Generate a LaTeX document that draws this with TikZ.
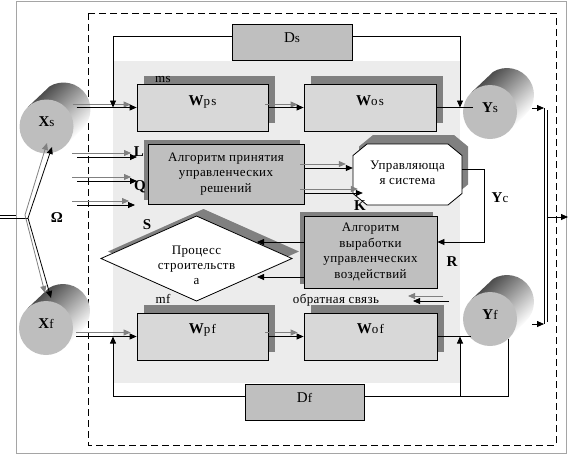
\documentclass[tikz,border=0pt]{standalone}
\usepackage{fontspec}
\setmainfont{Liberation Serif}
\newfontfamily\spc[LetterSpace=3]{Liberation Serif}
\newfontfamily\spw[LetterSpace=10]{Liberation Serif}
\usetikzlibrary{arrows.meta,calc,shadows}
\definecolor{bgreg}{RGB}{236,236,236}
\definecolor{wbox}{RGB}{216,216,216}
\definecolor{mbox}{RGB}{191,191,191}
\definecolor{shd}{RGB}{128,128,128}
\definecolor{face}{RGB}{190,190,190}
\definecolor{cyldark}{RGB}{78,78,78}
\definecolor{cylmid}{RGB}{132,132,132}
\definecolor{framec}{RGB}{165,165,165}
\newcommand\BS[2]{{\fontsize{15}{15}\selectfont\bfseries #1}{\spw\fontsize{13}{13}\selectfont #2}}
\newcommand\DS[2]{{\fontsize{15}{15}\selectfont #1}{\spw\fontsize{13}{13}\selectfont #2}}
\newcommand\mycyl[4]{%
  \begin{scope}
  \clip ($(#1,#2)+(-46.6:27)$) -- ++(17,17) arc[start angle=-46.6, end angle=133.4, radius=27]
    -- ($(#1,#2)+(133.4:27)$) -- cycle;
  \shade[left color=cyldark, middle color=cylmid, right color=white, transform canvas={shift={(#1,#2)}, rotate=-46.6}]
    (-27,-30) rectangle (27,60);
  \end{scope}
  \node[cylface] (#3) at (#1,#2) {#4};}
\tikzset{
  ln/.style={line width=0.8pt},
  arr/.style={line width=0.8pt, -{Triangle[length=7pt,width=6pt]}},
  garr/.style={line width=0.8pt, draw=shd, -{Triangle[length=7pt,width=6pt]}},
  wboxs/.style={draw, fill=wbox, line width=0.8pt, minimum width=131pt, minimum height=47pt,
    inner sep=0pt,
    drop shadow={shadow xshift=7pt, shadow yshift=8pt, fill=shd, opacity=1}},
  mboxs/.style={draw, fill=mbox, line width=0.8pt, inner sep=0pt, align=center,
    font=\spc\fontsize{13}{15.5}\selectfont,
    drop shadow={shadow xshift=-4pt, shadow yshift=4pt, fill=shd, opacity=1}},
  dboxs/.style={draw, fill=mbox, line width=0.8pt, minimum width=120pt, minimum height=36pt,
    inner sep=0pt, text height=10pt, text depth=10pt},
  txt/.style={align=center, inner sep=0pt, font=\spc\fontsize{13}{15}\selectfont},
  small/.style={inner sep=0pt, font=\spc\fontsize{13}{13}\selectfont},
  lbl/.style={inner sep=0pt, font=\fontsize{15}{15}\selectfont\bfseries},
  wlbl/.style={inner sep=0pt, text height=10pt, text depth=10pt},
  cylface/.style={circle, fill=face, minimum size=54pt, inner sep=0pt, text height=10pt, text depth=10pt}
}
\begin{document}
\begin{tikzpicture}[x=1pt,y=1pt]
\useasboundingbox (0,0) rectangle (581,-458);
% frames
\draw[framec, line width=1pt] (16,-1.5) rectangle (566,-453);
\fill[bgreg] (113,-61) rectangle (460,-383);
\draw[ln, dash pattern=on 7pt off 4pt] (88,-13) rectangle (556,-445);

% boxes
\node[dboxs] (Ds) at (292,-42) {\DS{D}{s}};
\node[dboxs, minimum width=119pt] (Df) at (304.5,-402) {\DS{D}{f}};
\node[wboxs] (Wps) at (202.5,-107.5) {};
\node[wboxs, minimum width=132pt] (Wos) at (370,-107.5) {};
\node[wboxs] (Wpf) at (202.5,-336.5) {};
\node[wboxs, minimum width=133pt] (Wof) at (370.5,-336.5) {};
\node[small] (ms) at (163,-79) {ms};
\node[small] (mf) at (163,-299) {mf};
\node[wlbl] (tWps) at ($(Wps)+(0,2)$) {\BS{W}{ps}};
\node[wlbl] (tWos) at ($(Wos)+(0,2)$) {\BS{W}{os}};
\node[wlbl] (tWpf) at ($(Wpf)+(0,3)$) {\BS{W}{pf}};
\node[wlbl] (tWof) at ($(Wof)+(0,3)$) {\BS{W}{of}};
\node[small] (obr) at (336,-300) {обратная связь};

\node[mboxs, minimum width=156pt, minimum height=60pt] (alg1) at (226,-174)
  {Алгоритм принятия\\управленческих\\решений};
\node[mboxs, minimum width=133pt, minimum height=72pt] (alg2) at (370.5,-252)
  {Алгоритм\\выработки\\управленческих\\воздействий};

% octagon
\coordinate (uc) at (407.5,-174.5);
\fill[shd, shift={($(uc)+(6,9)$)}] (-54.5,-19) -- (-54.5,19) -- (-40.5,30.5) -- (40.5,30.5)
  -- (54.5,19) -- (54.5,-19) -- (40.5,-30.5) -- (-40.5,-30.5) -- cycle;
\draw[ln, fill=white, shift={(uc)}] (-54.5,-19) -- (-54.5,19) -- (-40.5,30.5) -- (40.5,30.5)
  -- (54.5,19) -- (54.5,-19) -- (40.5,-30.5) -- (-40.5,-30.5) -- cycle;
\node[txt, minimum width=109pt, minimum height=61pt] (usys) at ($(uc)+(0,2)$) {Управляюща\\я система};

% diamond
\coordinate (pc) at (196.5,-258.5);
\fill[shd, shift={($(pc)+(7,7)$)}] (-95.5,0) -- (0,42.5) -- (95.5,0) -- (0,-42.5) -- cycle;
\draw[ln, fill=white, shift={(pc)}] (-95.5,0) -- (0,42.5) -- (95.5,0) -- (0,-42.5) -- cycle;
\node[txt] (proc) at ($(pc)+(0,-7)$) {Процесс\\строительств\\а};

% cylinders
\mycyl{46.5}{-126.5}{xs}{\BS{X}{s}}
\mycyl{490}{-112}{ys}{\BS{Y}{s}}
\mycyl{46}{-328}{xf}{\BS{X}{f}}
\mycyl{490}{-319}{yf}{\BS{Y}{f}}

% labels
\node[lbl] (L) at (139,-152) {L};
\node[lbl] (Q) at (140,-187) {Q};
\node[lbl] (S) at (147,-225) {S};
\node[lbl] (K) at (360,-206) {K};
\node[lbl] (R) at (452,-262) {R};
\node[lbl] (Om) at (57,-218) {Ω};
\node[inner sep=0pt] (Yc) at (500,-198) {\BS{Y}{c}};

% Xs -> Wps -> Wos -> Ys
\draw[garr] ($(xs.east |- Wps.west)+(-1,3)$) -- ($(Wps.west)+(-6,3)$);
\draw[arr] ($(xs.east |- Wps.west)+(3,0)$) -- (Wps.west);
\draw[garr] ($(Wps.east)+(-3,3)$) -- ($(Wos.west)+(-6,3)$);
\draw[arr] (Wps.east) -- (Wos.west);
\draw[ln] (Wos.east) -- ($(Wos.east -| ys.west)+(10,0)$);
% Xf -> Wpf -> Wof -> Yf
\draw[garr] ($(xf.east |- Wpf.west)+(3,4)$) -- ($(Wpf.west)+(-6,4)$);
\draw[arr] ($(xf.east |- Wpf.west)+(3,0)$) -- (Wpf.west);
\draw[garr] ($(Wpf.east)+(-3,4)$) -- ($(Wof.west)+(-6,4)$);
\draw[arr] (Wpf.east) -- (Wof.west);
\draw[ln] (Wof.east) -- ($(Wof.east -| yf.west)+(8,0)$);
% Ds / Df feedback
\coordinate (jl) at (113,-107.5);
\coordinate (jr) at (460,-107.5);
\draw[arr] ($(Ds.west)+(0,6)$) -| (jl);
\draw[arr] ($(Ds.east)+(0,6)$) -| (jr);
\coordinate (jfl) at (113,-336.5);
\coordinate (jfr) at (460,-336.5);
\coordinate (yfb) at (508,-339);
\draw[arr] ($(Df.west)+(0,6)$) -| (jfl);
\draw[ln] ($(Df.east)+(0,6)$) -| (yfb);
\draw[arr] ($(jfr |- Df.east)+(0,6)$) -- (jfr);
% inputs L, Q, third
\coordinate (in1) at (77,-157);
\coordinate (in2) at (77,-181);
\coordinate (in3) at (77,-205);
\draw[garr] ($(in1)+(-5,4)$) -- (131,-153);
\draw[arr] (in1) -- (137,-157);
\draw[garr] ($(in2)+(-5,4)$) -- (131,-177);
\draw[arr] (in2) -- (137,-181);
\draw[garr] ($(in3)+(-5,4)$) -- (129,-201);
\draw[arr] (in3) -- (135,-205);
% alg1 -> usys
\draw[garr] ($(alg1.east)+(-4,10)$) -- ($(usys.west)+(-7,8.5)$);
\draw[arr] ($(alg1.east)+(0,6)$) -- ($(usys.west)+(0,4.5)$);
\draw[garr] ($(alg1.east)+(-4,-15)$) -- ($(usys.west)+(5,-16.5)$);
\draw[arr] ($(alg1.east)+(0,-19)$) -- ($(usys.west)+(10,-20.5)$);
% usys -> alg2 (Yc)
\coordinate (ycc) at (484,-242);
\draw[arr] ($(usys.east)+(0,3.5)$) -| (ycc) -- ($(alg2.east)+(0,10)$);
% alg2 -> proc
\draw[arr] ($(alg2.west)+(0,10)$) -- (257,-242);
\draw[arr] ($(alg2.west)+(0,-25)$) -- (257,-277);
% feedback small arrows
\coordinate (fb) at (449,-301);
\draw[garr] ($(fb)+(-6,5)$) -- (408,-296);
\draw[arr] (fb) -- (413,-301);
% left input
\coordinate (ij) at (28,-218);
\coordinate (ig) at (25,-215);
\draw[ln] (0,-215) -- (16,-215);
\draw[ln] (0,-218) -- (ij);
\draw[garr] (ig) -- (47,-143);
\draw[arr] (ij) -- (52,-147);
\draw[garr] (ig) -- (45,-293);
\draw[arr] (ij) -- (51,-298);
% right bus
\coordinate (b1) at (544,-108);
\coordinate (b2) at (544,-324);
\draw[arr] (532,-108) -- (b1);
\draw[arr] (532,-324) -- (b2);
\draw[ln] (b1) -- (b2);
\draw[ln] (547,-110) -- (547,-322);
\draw[arr] (547,-217) -- (568,-217);
\end{tikzpicture}
\end{document}
